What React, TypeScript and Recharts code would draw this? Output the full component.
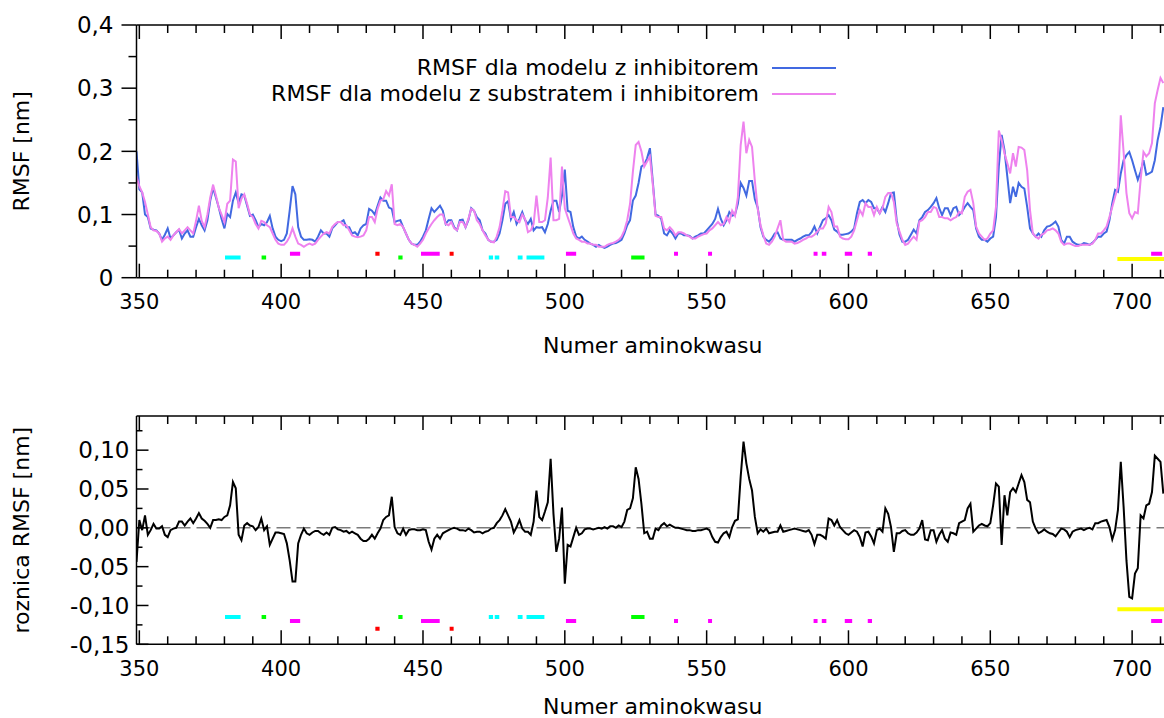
import React from 'react';
import { LineChart, Line, XAxis, YAxis, ReferenceLine, Legend, Label } from 'recharts';

// ---------- data ----------
const FIRST_RESIDUE = 349;

// RMSF [nm], model with inhibitor (residues 349..711)
const rmsfInhibitor = [
  0.2,
  0.14, 0.135, 0.1, 0.096, 0.078, 0.076, 0.075, 0.07, 0.06, 0.068, // 350
  0.078, 0.062, 0.067, 0.072, 0.076, 0.062, 0.07, 0.075, 0.065, 0.065, // 360
  0.08, 0.093, 0.083, 0.075, 0.091, 0.122, 0.142, 0.127, 0.111, 0.093, // 370
  0.078, 0.101, 0.096, 0.122, 0.135, 0.118, 0.132, 0.13, 0.114, 0.098, // 380
  0.1, 0.091, 0.08, 0.085, 0.083, 0.088, 0.098, 0.078, 0.065, 0.06, // 390
  0.058, 0.06, 0.07, 0.106, 0.145, 0.132, 0.08, 0.065, 0.06, 0.06, // 400
  0.061, 0.06, 0.057, 0.065, 0.075, 0.07, 0.07, 0.065, 0.078, 0.083, // 410
  0.088, 0.088, 0.091, 0.08, 0.08, 0.07, 0.072, 0.067, 0.078, 0.083, // 420
  0.085, 0.109, 0.106, 0.1, 0.114, 0.127, 0.122, 0.122, 0.111, 0.109, // 430
  0.088, 0.09, 0.091, 0.08, 0.07, 0.06, 0.054, 0.052, 0.052, 0.057, // 440
  0.065, 0.075, 0.093, 0.11, 0.104, 0.109, 0.114, 0.106, 0.085, 0.091, // 450
  0.091, 0.08, 0.075, 0.091, 0.092, 0.08, 0.091, 0.11, 0.106, 0.096, // 460
  0.091, 0.075, 0.07, 0.06, 0.057, 0.057, 0.06, 0.07, 0.091, 0.117, // 470
  0.121, 0.093, 0.104, 0.085, 0.093, 0.104, 0.091, 0.085, 0.093, 0.075, // 480
  0.08, 0.079, 0.08, 0.072, 0.085, 0.106, 0.122, 0.122, 0.104, 0.13, // 490
  0.171, 0.106, 0.104, 0.08, 0.065, 0.062, 0.065, 0.06, 0.057, 0.054, // 500
  0.052, 0.049, 0.052, 0.049, 0.047, 0.049, 0.052, 0.054, 0.055, 0.057, // 510
  0.06, 0.07, 0.083, 0.091, 0.122, 0.13, 0.15, 0.176, 0.179, 0.189, // 520
  0.205, 0.153, 0.1, 0.098, 0.093, 0.07, 0.067, 0.075, 0.07, 0.062, // 530
  0.07, 0.07, 0.067, 0.067, 0.066, 0.062, 0.065, 0.067, 0.07, 0.07, // 540
  0.075, 0.08, 0.085, 0.093, 0.109, 0.093, 0.083, 0.091, 0.104, 0.098, // 550
  0.1, 0.117, 0.15, 0.142, 0.13, 0.153, 0.153, 0.124, 0.111, 0.08, // 560
  0.065, 0.06, 0.057, 0.062, 0.07, 0.072, 0.062, 0.06, 0.06, 0.06, // 570
  0.06, 0.057, 0.06, 0.062, 0.065, 0.067, 0.067, 0.072, 0.081, 0.07, // 580
  0.081, 0.091, 0.094, 0.099, 0.091, 0.076, 0.073, 0.068, 0.068, 0.069, // 590
  0.07, 0.073, 0.078, 0.102, 0.12, 0.123, 0.118, 0.123, 0.12, 0.11, // 600
  0.11, 0.102, 0.112, 0.104, 0.118, 0.134, 0.135, 0.091, 0.068, 0.057, // 610
  0.057, 0.06, 0.068, 0.076, 0.07, 0.091, 0.096, 0.104, 0.107, 0.112, // 620
  0.118, 0.126, 0.11, 0.099, 0.11, 0.11, 0.099, 0.11, 0.112, 0.099, // 630
  0.104, 0.112, 0.118, 0.112, 0.107, 0.078, 0.065, 0.06, 0.06, 0.057, // 640
  0.062, 0.065, 0.096, 0.176, 0.226, 0.202, 0.16, 0.118, 0.144, 0.128, // 650
  0.15, 0.144, 0.141, 0.112, 0.078, 0.07, 0.065, 0.07, 0.065, 0.075, // 660
  0.081, 0.082, 0.085, 0.089, 0.081, 0.06, 0.054, 0.065, 0.065, 0.057, // 670
  0.054, 0.052, 0.052, 0.055, 0.054, 0.052, 0.055, 0.06, 0.065, 0.065, // 680
  0.07, 0.073, 0.091, 0.118, 0.139, 0.136, 0.165, 0.186, 0.194, 0.199, // 690
  0.186, 0.17, 0.155, 0.168, 0.186, 0.163, 0.165, 0.168, 0.186, 0.218, // 700
  0.239, 0.27, // 710
];

// RMSF [nm], model with substrate and inhibitor
const rmsfSubstrateInhibitor = [
  0.16,
  0.145, 0.135, 0.12, 0.1, 0.08, 0.075, 0.074, 0.07, 0.057, 0.062, // 350
  0.065, 0.06, 0.067, 0.072, 0.077, 0.07, 0.075, 0.08, 0.075, 0.07, // 360
  0.09, 0.114, 0.09, 0.08, 0.1, 0.127, 0.147, 0.13, 0.111, 0.1, // 370
  0.088, 0.117, 0.122, 0.187, 0.184, 0.11, 0.125, 0.132, 0.117, 0.1, // 380
  0.096, 0.085, 0.078, 0.09, 0.088, 0.083, 0.08, 0.07, 0.06, 0.054, // 390
  0.052, 0.052, 0.057, 0.065, 0.078, 0.065, 0.054, 0.052, 0.049, 0.052, // 400
  0.054, 0.052, 0.054, 0.06, 0.065, 0.07, 0.072, 0.07, 0.08, 0.085, // 410
  0.088, 0.088, 0.083, 0.083, 0.075, 0.067, 0.065, 0.064, 0.065, 0.067, // 420
  0.075, 0.096, 0.096, 0.088, 0.109, 0.122, 0.124, 0.137, 0.13, 0.148, // 430
  0.085, 0.083, 0.085, 0.08, 0.07, 0.06, 0.054, 0.052, 0.049, 0.054, // 440
  0.06, 0.07, 0.078, 0.085, 0.091, 0.096, 0.1, 0.1, 0.085, 0.083, // 450
  0.088, 0.078, 0.075, 0.088, 0.088, 0.08, 0.093, 0.109, 0.106, 0.091, // 460
  0.085, 0.075, 0.067, 0.06, 0.057, 0.056, 0.065, 0.08, 0.106, 0.137, // 470
  0.135, 0.096, 0.096, 0.091, 0.088, 0.1, 0.093, 0.072, 0.075, 0.085, // 480
  0.13, 0.088, 0.088, 0.091, 0.127, 0.19, 0.091, 0.091, 0.093, 0.176, // 490
  0.11, 0.096, 0.083, 0.07, 0.062, 0.06, 0.057, 0.057, 0.054, 0.054, // 500
  0.052, 0.052, 0.049, 0.049, 0.049, 0.052, 0.054, 0.055, 0.057, 0.06, // 510
  0.065, 0.075, 0.091, 0.117, 0.168, 0.21, 0.215, 0.2, 0.176, 0.184, // 520
  0.192, 0.148, 0.098, 0.096, 0.096, 0.078, 0.075, 0.08, 0.075, 0.067, // 530
  0.072, 0.072, 0.07, 0.067, 0.065, 0.062, 0.062, 0.065, 0.067, 0.069, // 540
  0.07, 0.075, 0.078, 0.083, 0.088, 0.083, 0.085, 0.096, 0.088, 0.106, // 550
  0.098, 0.127, 0.21, 0.247, 0.197, 0.218, 0.207, 0.153, 0.109, 0.083, // 560
  0.067, 0.054, 0.052, 0.057, 0.065, 0.078, 0.091, 0.06, 0.057, 0.057, // 570
  0.057, 0.054, 0.055, 0.057, 0.06, 0.062, 0.065, 0.065, 0.068, 0.073, // 580
  0.078, 0.078, 0.086, 0.112, 0.104, 0.081, 0.081, 0.065, 0.062, 0.061, // 590
  0.061, 0.065, 0.075, 0.091, 0.107, 0.099, 0.118, 0.112, 0.112, 0.099, // 600
  0.112, 0.102, 0.11, 0.128, 0.134, 0.134, 0.12, 0.086, 0.073, 0.06, // 610
  0.052, 0.054, 0.06, 0.065, 0.06, 0.089, 0.091, 0.096, 0.104, 0.104, // 620
  0.112, 0.11, 0.096, 0.096, 0.094, 0.094, 0.091, 0.094, 0.096, 0.104, // 630
  0.102, 0.128, 0.136, 0.139, 0.118, 0.081, 0.07, 0.065, 0.06, 0.062, // 640
  0.07, 0.075, 0.112, 0.233, 0.218, 0.197, 0.181, 0.165, 0.197, 0.176, // 650
  0.207, 0.206, 0.202, 0.17, 0.107, 0.07, 0.065, 0.062, 0.068, 0.07, // 660
  0.075, 0.076, 0.078, 0.075, 0.07, 0.057, 0.052, 0.054, 0.054, 0.052, // 670
  0.05, 0.05, 0.052, 0.052, 0.052, 0.052, 0.054, 0.06, 0.07, 0.07, // 680
  0.075, 0.081, 0.096, 0.112, 0.128, 0.144, 0.257, 0.199, 0.134, 0.102, // 690
  0.094, 0.104, 0.102, 0.155, 0.199, 0.192, 0.197, 0.213, 0.276, 0.297, // 700
  0.316, 0.308, // 710
];

// RMSF difference [nm]
const rmsfDifference = [
  -0.044,
  0.01, -0.003, 0.016, -0.009, -0.003, 0.005, -0.001, -0.001, 0.002, -0.009, // 350
  -0.012, -0.003, -0.001, 0, 0.008, 0.008, 0.003, 0.008, 0.012, 0.006, // 360
  0.012, 0.019, 0.012, 0.009, 0.005, 0, 0.01, 0.01, 0.011, 0.01, // 370
  0.014, 0.016, 0.029, 0.059, 0.051, -0.009, -0.016, 0.003, 0.006, 0.003, // 380
  0.002, -0.003, 0.001, 0.012, -0.003, 0.002, -0.022, -0.014, -0.006, -0.006, // 390
  -0.007, -0.008, -0.02, -0.042, -0.069, -0.069, -0.02, -0.009, -0.001, -0.007, // 400
  -0.009, -0.006, -0.004, -0.004, -0.007, -0.009, -0.006, -0.009, 0, 0.001, // 410
  -0.002, -0.003, -0.005, -0.004, -0.007, -0.005, -0.007, -0.009, -0.014, -0.017, // 420
  -0.017, -0.014, -0.009, -0.014, -0.007, -0.001, 0.01, 0.014, 0.016, 0.04, // 430
  0.001, -0.007, -0.009, -0.001, -0.009, -0.003, -0.002, -0.002, -0.003, -0.003, // 440
  -0.002, -0.003, -0.018, -0.028, -0.014, -0.009, -0.014, -0.007, -0.005, -0.003, // 450
  -0.001, 0, -0.001, -0.003, -0.003, -0.004, -0.001, -0.003, -0.006, -0.005, // 460
  -0.005, -0.007, -0.005, -0.004, -0.001, 0, 0.006, 0.01, 0.016, 0.024, // 470
  0.016, 0.008, -0.006, 0.001, 0.01, -0.001, -0.005, -0.005, -0.009, 0.008, // 480
  0.048, 0.014, 0.01, 0.021, 0.033, 0.089, 0.018, -0.031, -0.014, 0.026, // 490
  -0.072, -0.022, -0.024, -0.012, 0, -0.009, -0.007, -0.002, -0.001, -0.001, // 500
  -0.002, -0.001, 0, -0.001, 0.001, -0.001, 0.002, 0.002, 0, 0.003, // 510
  0.001, 0.008, 0.023, 0.025, 0.038, 0.078, 0.063, 0.031, -0.007, -0.005, // 520
  -0.014, -0.014, -0.001, -0.003, 0.003, 0.006, 0.002, 0.004, 0.002, 0, // 530
  0, -0.001, -0.002, -0.003, -0.003, -0.004, -0.004, -0.003, -0.003, -0.002, // 540
  -0.001, -0.003, -0.012, -0.018, -0.019, -0.012, -0.007, -0.005, -0.012, 0.001, // 550
  0.009, 0.011, 0.066, 0.111, 0.083, 0.063, 0.048, 0.014, -0.007, -0.002, // 560
  -0.005, -0.001, -0.007, -0.006, -0.005, -0.005, 0.003, -0.005, -0.004, -0.003, // 570
  -0.002, -0.001, -0.002, -0.003, -0.004, -0.005, -0.003, -0.009, -0.021, -0.009, // 580
  -0.009, -0.011, -0.014, 0.012, 0.01, 0.003, 0.01, 0.001, -0.003, -0.007, // 590
  -0.009, -0.006, -0.003, -0.005, -0.012, -0.024, -0.006, -0.005, -0.011, -0.02, // 600
  -0.003, -0.001, -0.005, 0.025, 0.018, 0.001, -0.031, -0.007, -0.007, -0.004, // 610
  -0.003, -0.007, -0.009, -0.009, -0.006, -0.001, 0.01, -0.015, -0.016, -0.003, // 620
  -0.003, -0.018, -0.009, -0.003, -0.014, -0.018, -0.006, -0.007, -0.009, 0.006, // 630
  0.008, 0.01, 0.025, 0.031, -0.005, -0.001, 0.003, 0.005, 0.003, 0.002, // 640
  0.006, 0.029, 0.057, 0.053, -0.022, 0.042, 0.016, 0.046, 0.051, 0.046, // 650
  0.057, 0.068, 0.059, 0.036, 0.033, 0.008, -0.001, -0.007, -0.005, -0.002, // 660
  -0.005, -0.007, -0.008, -0.011, -0.006, -0.001, -0.002, -0.005, -0.012, -0.005, // 670
  -0.003, -0.002, -0.001, -0.003, -0.001, 0, -0.002, 0.006, 0.006, 0.008, // 680
  0.009, 0.01, 0.001, -0.015, -0.003, 0.023, 0.085, 0.027, -0.042, -0.089, // 690
  -0.091, -0.059, -0.052, 0.016, 0.012, 0.029, 0.031, 0.046, 0.093, 0.089, // 700
  0.085, 0.044, // 710
];

const residues = rmsfInhibitor.map((_, i) => FIRST_RESIDUE + i);

// residue ranges of the coloured markers
const cyanRanges = [[380.2, 385.7], [473.2, 474.7], [475.3, 476.9], [483.4, 485.1], [486.5, 492.8]];
const greenRanges = [[393.1, 394.7], [441.3, 442.8], [523.4, 528.1]];
const magentaRanges = [
  [403.1, 406.7], [449.3, 455.9], [500.4, 504], [538.5, 539.9], [550.5, 551.9],
  [587.7, 589.1], [590.6, 592.2], [598.7, 601.3], [606.8, 608.3], [706.7, 710.6],
];
const redRanges = [[433.2, 434.7], [459.4, 460.8], [711.5, 712.9]];
const yellowRanges = [[694.8, 713]];

// marker levels (data units) in upper and lower panels
const markerLevelsTop = { cyan: 0.032, green: 0.032, magenta: 0.038, red: 0.038, yellow: 0.0295 };
const markerLevelsBottom = { cyan: -0.115, green: -0.115, magenta: -0.12, red: -0.13, yellow: -0.105 };

const xDomain = [349, 713];
const xTicks = [350, 360, 370, 380, 390, 400, 410, 420, 430, 440, 450, 460, 470, 480, 490, 500, 510, 520, 530,
  540, 550, 560, 570, 580, 590, 600, 610, 620, 630, 640, 650, 660, 670, 680, 690, 700, 710];
const topYTicks = [0, 0.05, 0.1, 0.15, 0.2, 0.25, 0.3, 0.35, 0.4];
const bottomYTicks = [-0.15, -0.125, -0.1, -0.075, -0.05, -0.025, 0, 0.025, 0.05, 0.075, 0.1, 0.125];

const SERIES_INHIBITOR = 'RMSF dla modelu z inhibitorem';
const SERIES_SUBSTRATE = 'RMSF dla modelu z substratem i inhibitorem';

const topData = residues.map((r, i) => ({
  residue: r,
  inhibitor: rmsfInhibitor[i],
  substrate: rmsfSubstrateInhibitor[i],
}));
const diffData = residues.map((r, i) => ({ residue: r, diff: rmsfDifference[i] }));

// ---------- styling helpers ----------
const FONT = '"DejaVu Sans", "Liberation Sans", Arial, sans-serif';
const BLUE = '#4169E1';
const VIOLET = '#EE82EE';
const markerColors = { cyan: '#00FFFF', green: '#00FF00', magenta: '#FF00FF', red: '#FF0000', yellow: '#FFFF00' };
const markerRanges = { cyan: cyanRanges, green: greenRanges, magenta: magentaRanges, red: redRanges, yellow: yellowRanges };

const isStep = (v: number, step: number) => Math.abs(v / step - Math.round(v / step)) < 1e-6;
const fmtTop = (v: number) => (Math.abs(v) < 1e-9 ? '0' : v.toFixed(1).replace('.', ','));
const fmtBottom = (v: number) => (Math.abs(v) < 1e-9 ? '0,00' : v.toFixed(2).replace('.', ','));

const TopLeftYTick = (props: any) => {
  const { x, y, payload } = props;
  const major = isStep(payload.value, 0.1);
  return (
    <g>
      <line x1={x - (major ? 15 : 8)} x2={x} y1={y} y2={y} stroke="#000" strokeWidth={1.5} />
      {major && (
        <text x={x - 23} y={y} dy="0.36em" textAnchor="end" fontSize={23} fontFamily={FONT} fill="#000">
          {fmtTop(payload.value)}
        </text>
      )}
    </g>
  );
};

const BottomLeftYTick = (props: any) => {
  const { x, y, payload } = props;
  const major = isStep(payload.value, 0.05);
  return (
    <g>
      <line x1={x} x2={x + (major ? 12 : 6)} y1={y} y2={y} stroke="#000" strokeWidth={1.5} />
      {major && (
        <text x={x - 7} y={y} dy="0.36em" textAnchor="end" fontSize={23} fontFamily={FONT} fill="#000">
          {fmtBottom(payload.value)}
        </text>
      )}
    </g>
  );
};

const RightYTick = (props: any) => {
  const { x, y, payload } = props;
  const major = isStep(payload.value, 0.05);
  return <line x1={x - (major ? 12 : 6)} x2={x} y1={y} y2={y} stroke="#000" strokeWidth={1.5} />;
};

const BottomXTick = (props: any) => {
  const { x, y, payload } = props;
  const major = isStep(payload.value, 50);
  return (
    <g>
      <line x1={x} x2={x} y1={y} y2={y - (major ? 14 : 8)} stroke="#000" strokeWidth={1.5} />
      {major && (
        <text x={x} y={y + 31.5} textAnchor="middle" fontSize={21} fontFamily={FONT} fill="#000">
          {payload.value}
        </text>
      )}
    </g>
  );
};

const TopXTick = (props: any) => {
  const { x, y, payload } = props;
  const major = isStep(payload.value, 50);
  return <line x1={x} x2={x} y1={y} y2={y + (major ? 14 : 8)} stroke="#000" strokeWidth={1.5} />;
};

const yTitle = (text: string, fallbackCenter: number) => (props: any) => {
  const vb = props && props.viewBox;
  const cy = vb && typeof vb.y === 'number' ? vb.y + vb.height / 2 : fallbackCenter;
  return (
    <text
      x={22}
      y={cy}
      transform={`rotate(-90 22 ${cy})`}
      textAnchor="middle"
      dominantBaseline="central"
      fontSize={22}
      fontFamily={FONT}
      fill="#000"
    >
      {text}
    </text>
  );
};

const xTitle = (text: string, dy: number) => (props: any) => {
  const vb = props && props.viewBox;
  const cx = vb && typeof vb.x === 'number' ? vb.x + vb.width / 2 : 652;
  const y0 = vb && typeof vb.y === 'number' ? vb.y : 0;
  return (
    <text x={cx} y={y0 + dy} textAnchor="middle" fontSize={22} fontFamily={FONT} fill="#000">
      {text}
    </text>
  );
};

const renderLegend = (props: any) => {
  const payload = (props && props.payload) || [];
  return (
    <div style={{ fontFamily: FONT }}>
      {payload.map((entry: any) => (
        <div
          key={entry.value}
          style={{ display: 'flex', justifyContent: 'flex-end', alignItems: 'center', height: 26 }}
        >
          <span style={{ fontSize: 22, lineHeight: '26px', color: '#000', whiteSpace: 'nowrap' }}>{entry.value}</span>
          <span style={{ display: 'inline-block', width: 64, marginLeft: 13, borderTop: `2px solid ${entry.color}` }} />
        </div>
      ))}
    </div>
  );
};

const markerLines = (levels: Record<string, number>, prefix: string) =>
  Object.keys(markerRanges).flatMap((k) =>
    (markerRanges as any)[k].map(([a, b]: number[], i: number) => (
      <ReferenceLine
        key={`${prefix}-${k}-${i}`}
        segment={[{ x: a, y: levels[k] }, { x: b, y: levels[k] }]}
        stroke={(markerColors as any)[k]}
        strokeWidth={4}
        ifOverflow="hidden"
      />
    ))
  );

const axisLineStyle = { stroke: '#000', strokeWidth: 1.5 };

export default function App() {
  return (
    <div
      style={{
        position: 'absolute',
        left: 0,
        top: 0,
        width: 1164,
        height: 718,
        overflow: 'hidden',
        background: '#fff',
        fontFamily: FONT,
      }}
    >
      <div style={{ position: 'absolute', left: 0, top: 0 }}>
        <LineChart width={1200} height={360} data={topData} margin={{ top: 20, right: 31, bottom: 0, left: 0 }}>
          <XAxis
            dataKey="residue"
            type="number"
            domain={xDomain}
            ticks={xTicks}
            interval={0}
            allowDataOverflow
            height={82.3}
            tickSize={0}
            tickMargin={0}
            tickLine={false}
            tick={BottomXTick}
            axisLine={axisLineStyle}
          >
            <Label content={xTitle('Numer aminokwasu', 75)} />
          </XAxis>
          <XAxis
            xAxisId="top"
            dataKey="residue"
            orientation="top"
            type="number"
            domain={xDomain}
            ticks={xTicks}
            interval={0}
            allowDataOverflow
            height={5}
            tickSize={0}
            tickMargin={0}
            tickLine={false}
            tick={TopXTick}
            axisLine={axisLineStyle}
          />
          <YAxis
            type="number"
            domain={[0, 0.4]}
            ticks={topYTicks}
            interval={0}
            width={136.5}
            tickSize={0}
            tickMargin={0}
            tickLine={false}
            tick={TopLeftYTick}
            axisLine={axisLineStyle}
          >
            <Label content={yTitle('RMSF [nm]', 151)} />
          </YAxis>
          {markerLines(markerLevelsTop, 'top')}
          <Line
            type="linear"
            dataKey="inhibitor"
            name={SERIES_INHIBITOR}
            stroke={BLUE}
            strokeWidth={2}
            dot={false}
            activeDot={false}
            isAnimationActive={false}
          />
          <Line
            type="linear"
            dataKey="substrate"
            name={SERIES_SUBSTRATE}
            stroke={VIOLET}
            strokeWidth={2}
            dot={false}
            activeDot={false}
            isAnimationActive={false}
          />
          <Legend
            layout="horizontal"
            verticalAlign="middle"
            align="center"
            content={renderLegend}
            wrapperStyle={{ top: 55, left: 236, width: 600, height: 52 }}
          />
        </LineChart>
      </div>

      <div style={{ position: 'absolute', left: 0, top: 380 }}>
        <LineChart width={1200} height={338} data={diffData} margin={{ top: 31, right: 31, bottom: 0, left: 0 }}>
          <XAxis
            dataKey="residue"
            type="number"
            domain={xDomain}
            ticks={xTicks}
            interval={0}
            allowDataOverflow
            height={73.7}
            tickSize={0}
            tickMargin={0}
            tickLine={false}
            tick={BottomXTick}
            axisLine={axisLineStyle}
          >
            <Label content={xTitle('Numer aminokwasu', 70)} />
          </XAxis>
          <XAxis
            xAxisId="top"
            dataKey="residue"
            orientation="top"
            type="number"
            domain={xDomain}
            ticks={xTicks}
            interval={0}
            allowDataOverflow
            height={5}
            tickSize={0}
            tickMargin={0}
            tickLine={false}
            tick={TopXTick}
            axisLine={axisLineStyle}
          />
          <YAxis
            type="number"
            domain={[-0.15, 0.144]}
            ticks={bottomYTicks}
            interval={0}
            width={136.5}
            tickSize={0}
            tickMargin={0}
            tickLine={false}
            tick={BottomLeftYTick}
            axisLine={axisLineStyle}
          >
            <Label content={yTitle('roznica RMSF [nm]', 150)} />
          </YAxis>
          <YAxis
            yAxisId="right"
            orientation="right"
            type="number"
            domain={[-0.15, 0.144]}
            ticks={bottomYTicks}
            interval={0}
            width={0}
            tickSize={0}
            tickMargin={0}
            tickLine={false}
            tick={RightYTick}
            axisLine={axisLineStyle}
          />
          <ReferenceLine y={0} stroke="#7a7a7a" strokeWidth={1.5} strokeDasharray="14 6" />
          {markerLines(markerLevelsBottom, 'bottom')}
          <Line
            type="linear"
            dataKey="diff"
            name="roznica RMSF"
            stroke="#000"
            strokeWidth={2}
            dot={false}
            activeDot={false}
            isAnimationActive={false}
          />
        </LineChart>
      </div>
    </div>
  );
}
